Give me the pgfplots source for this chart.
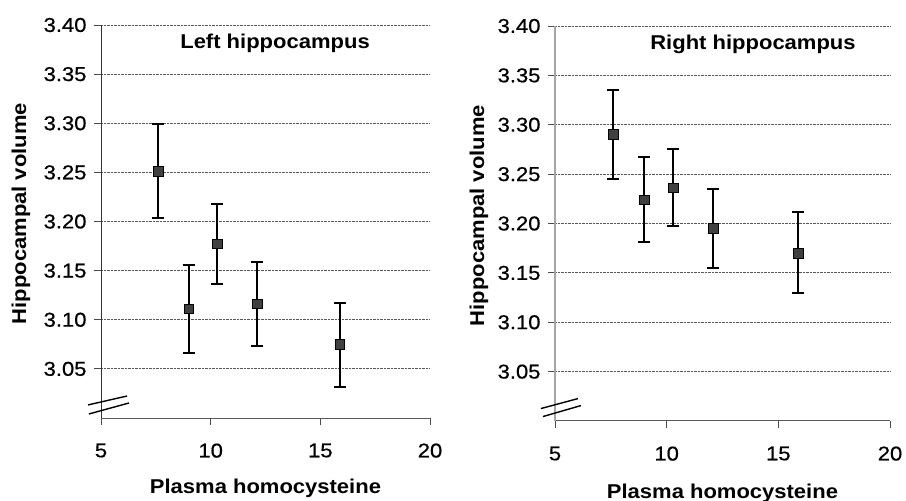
\documentclass[border=0pt]{standalone}
\usepackage{pgfplots}
\pgfplotsset{compat=1.18}
\usepackage{fontspec}
\setmainfont{Liberation Sans}[FakeStretch=1.1]
\newfontfamily\tickfam{Liberation Sans}[FakeStretch=1.1, FakeBold=0.6]
\newcommand{\tfont}{\tickfam\fontsize{20}{22}\selectfont}
\begin{document}
\begin{tikzpicture}
\path[use as bounding box] (0,0) rectangle (906pt,501pt);
\pgfplotsset{
  hc/.style={
    scale only axis, anchor=south west,
    xmin=5, xmax=20, ymin=3.00, ymax=3.40,
    axis x line*=bottom, axis y line*=left,
    xtick={5,10,15,20}, ytick={3.05,3.10,...,3.401},
    tick align=outside, major tick length=7pt,
    tick style={line width=0.8pt, gray!60!black},
    ymajorgrids, grid style={densely dotted, line width=0.8pt, gray!70!black},
    yticklabel={\tfont\pgfmathprintnumber[fixed, fixed zerofill, precision=2, assume math mode=true]{\tick}},
    xticklabel={\tfont\pgfmathprintnumber[assume math mode=true]{\tick}},
    xticklabel style={yshift=-15pt},
    yticklabel style={xshift=-4pt},
    x axis line style={line width=1pt, gray!70!black},
    clip=false,
  },
  ebar/.style={
    only marks, mark=square*, mark size=4.8pt,
    mark options={fill=black!75, draw=black, line width=0.8pt},
    error bars/.cd, y dir=both, y explicit,
    error bar style={line width=2pt, black},
    error mark options={rotate=90, mark size=6pt, line width=2pt, black},
  },
}
% Left panel
\begin{axis}[hc, at={(101pt,83pt)}, width=329pt, height=393pt,
  y axis line style={line width=0.8pt, black!80},
  xlabel={\bfseries Plasma homocysteine},
  xlabel style={at={(axis description cs:0.5,0)}, anchor=center, yshift=-70pt, font=\fontsize{20}{24}\selectfont},
  ylabel={\bfseries Hippocampal volume},
  ylabel style={at={(axis description cs:0,0.52)}, anchor=center, yshift=80pt, font=\fontsize{20}{24}\selectfont},
]
\addplot+[ebar] table[x=x, y=y, y error plus=ep, y error minus=em] {
x     y      ep     em
7.61  3.251  0.048  0.047
9.01  3.111  0.045  0.045
10.30 3.177  0.041  0.041
12.13 3.116  0.043  0.043
15.90 3.075  0.042  0.043
};
\node[font=\fontsize{20}{24}\selectfont\bfseries] at (axis description cs:0.529,0.954) {Left hippocampus};
\draw[line width=1.4pt] (axis cs:4.41,3.0133) -- (axis cs:6.19,3.0224);
\draw[line width=1.4pt] (axis cs:4.45,3.0041) -- (axis cs:6.28,3.0153);
\end{axis}
% Right panel
\begin{axis}[hc, at={(555pt,80pt)}, width=335pt, height=395pt,
  y axis line style={line width=1.6pt, gray!70},
  xlabel={\bfseries Plasma homocysteine},
  xlabel style={at={(axis description cs:0.5,0)}, anchor=center, yshift=-72pt, font=\fontsize{20}{24}\selectfont},
  ylabel={\bfseries Hippocampal volume},
  ylabel style={at={(axis description cs:0,0.52)}, anchor=center, yshift=76pt, font=\fontsize{20}{24}\selectfont},
]
\addplot+[ebar] table[x=x, y=y, y error plus=ep, y error minus=em] {
x     y      ep     em
7.61  3.290  0.045  0.045
9.00  3.224  0.043  0.043
10.30 3.236  0.039  0.039
12.09 3.195  0.040  0.040
15.90 3.170  0.042  0.040
};
\node[font=\fontsize{20}{24}\selectfont\bfseries] at (axis description cs:0.591,0.954) {Right hippocampus};
\draw[line width=1.4pt] (axis cs:4.37,3.0126) -- (axis cs:6.03,3.0227);
\draw[line width=1.4pt] (axis cs:4.46,3.0045) -- (axis cs:6.16,3.0156);
\end{axis}
\end{tikzpicture}
\end{document}
